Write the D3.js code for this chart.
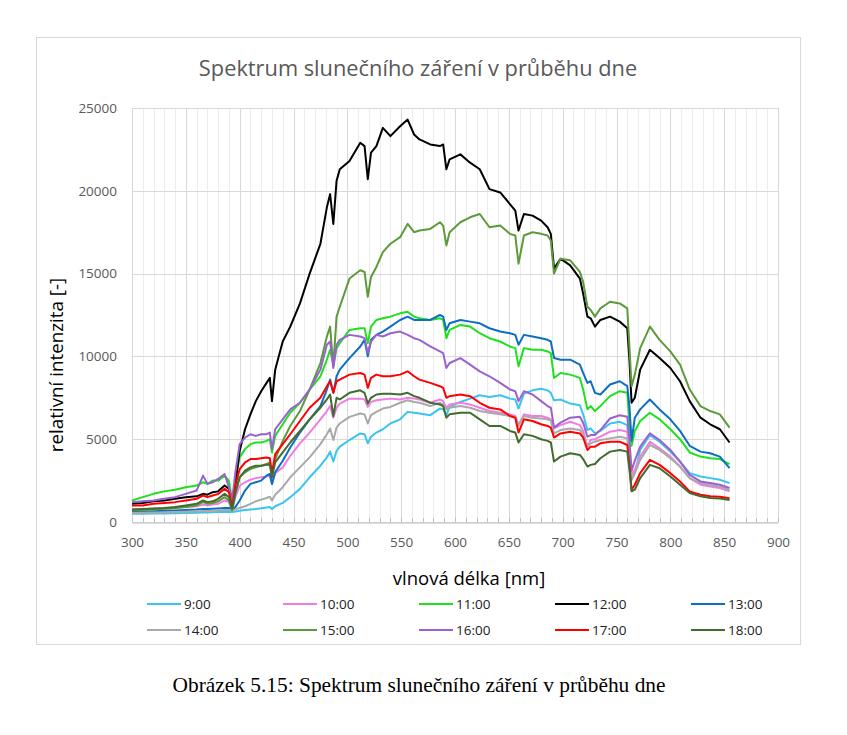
<!DOCTYPE html>
<html><head><meta charset="utf-8">
<script src="https://cdn.jsdelivr.net/npm/d3@7"></script>
<style>body{margin:0;background:#fff}svg{display:block}</style>
</head><body><svg id="c" width="847" height="735"></svg>
<script>
const wavelengths=[300,310,320,330,340,350,360,366,370,375,380,386,390,393,396,400,405,410,415,420,425,428,430,433,440,447,456,465,475,481,484,487,490,493,502,512,516,519,522,527,533,540,549,556,562,567,577,586,589,592,595,605,614,623,632,642,651,656,659,664,672,680,686,689,692,698,707,716,719,723,726,730,735,744,753,760,762,764,767,772,781,790,800,809,818,828,837,846,855];

const s0900=[500,500,510,520,530,540,560,570,580,590,600,610,620,600,640,680,720,760,790,830,880,900,780,950,1150,1500,2000,2700,3400,3900,4250,3650,4300,4550,4950,5350,5300,4750,5150,5400,5600,5950,6200,6650,6600,6550,6450,6850,6800,6450,6950,7250,7450,7650,7550,7650,7450,7400,6850,7750,7950,8050,7950,7800,7350,7400,7150,7050,6500,5550,5650,5350,5500,5950,6050,5850,4300,2550,2950,4350,5250,4850,4250,3650,2950,2750,2650,2550,2350];
const s1000=[750,770,800,820,850,900,950,1050,1000,1050,1100,1300,1200,700,1500,2200,2400,2550,2650,2700,2750,2800,2300,2950,3300,4000,4750,5400,6200,6700,7000,6300,6900,7150,7450,7450,7400,6950,7250,7350,7400,7450,7400,7500,7450,7400,7200,7400,7300,6900,7100,7200,7100,6900,6700,6600,6500,6400,5800,6500,6400,6400,6300,6200,5650,5850,6050,5850,5500,4550,4950,5000,5150,5450,5550,5450,4200,2850,3150,3950,4850,4450,3950,3350,2650,2250,2150,2050,1850];
const s1100=[1300,1500,1700,1850,1950,2100,2200,2400,2300,2500,2500,2800,2500,1300,2500,3900,4400,4700,4800,4800,4900,5000,4200,5200,5900,6600,7200,8000,8800,9800,10400,9500,10500,10800,11600,11700,11700,10800,11800,12200,12300,12400,12600,12700,12400,12300,12200,12300,12200,11100,11600,11900,11800,11400,11100,10900,10600,10500,9400,10500,10400,10400,10300,10200,8700,9000,8900,8700,8000,6800,7000,6700,7000,7600,7900,7800,6000,4600,5500,6100,6600,6200,5600,5000,4200,3950,3850,3800,3500];
const s1200=[1100,1150,1250,1300,1400,1500,1550,1700,1650,1800,1850,2200,2000,1300,2300,4300,5600,6500,7300,7900,8400,8700,7300,9200,10900,11800,13200,15000,16800,19000,19800,18000,20600,21300,21800,22900,22700,20700,22300,22700,23800,23300,23900,24300,23400,23100,22800,22700,22800,21300,21900,22200,21700,21300,20100,19900,19200,18800,17600,18600,18500,18200,17800,17400,15300,15900,15500,14700,13800,12400,12300,11800,12200,12400,12100,11700,9800,7200,7500,9200,10400,9900,9300,8500,7300,6300,5900,5600,4800];
const s1300=[600,620,650,680,700,720,750,780,780,800,820,850,850,750,900,1300,1900,2300,2400,2500,2800,2900,2300,3000,3700,4500,5400,6200,7000,8000,8600,7800,8800,9200,9900,10600,11000,10000,11000,11300,11500,11800,12200,12400,12200,12200,12200,12500,12400,11600,12000,12200,12100,12000,11700,11500,11400,11300,10700,11300,11200,11100,11000,10900,9900,9800,9800,9500,9000,8400,8500,7800,7700,8300,8500,8200,7000,4900,6300,6800,7400,6800,6200,5500,4600,4250,4150,3950,3250];
const s1400=[550,560,570,580,600,620,640,660,660,680,700,720,730,700,760,850,950,1100,1250,1350,1450,1530,1300,1650,2100,2700,3300,3900,4700,5300,5650,4950,5700,5950,6350,6550,6500,5950,6450,6650,6850,6950,7200,7350,7250,7200,7000,7200,7100,6800,6900,7000,6900,6700,6600,6500,6400,6350,5900,6400,6300,6250,6200,6100,5350,5550,5650,5550,5300,4550,4750,4850,4950,5050,5150,5050,3900,2550,2950,3750,4650,4350,3850,3350,2650,2350,2230,2130,1930];
const s1500=[700,720,760,800,850,900,1000,1200,1100,1150,1250,1500,1300,700,1700,2700,3000,3200,3300,3400,3500,3600,2900,3800,4900,5800,6700,8000,9600,11200,11800,9400,12400,13000,14700,15200,15100,13600,14800,15400,16300,16800,17200,18000,17500,17600,17700,18100,17900,16700,17500,18100,18400,18600,17800,17900,17400,17300,15600,17300,17500,17400,17300,17000,15000,15900,15800,15100,14500,13000,12800,12400,12900,13300,13200,12900,10600,8200,8900,10500,11800,11000,10300,9500,8000,7000,6700,6500,5700];
const s1600=[1200,1250,1300,1400,1500,1700,1900,2800,2300,2400,2600,2900,2100,1300,3000,4700,5100,5300,5200,5300,5300,5400,4400,5600,6200,6800,7200,8000,9200,10700,10900,9300,10700,11000,11300,11200,11100,10200,10900,11300,11200,11400,11500,11300,11100,11000,10600,10300,10200,9300,9600,9900,9500,9100,8800,8400,8000,7900,7300,7900,7700,7300,7000,6900,5700,6000,6300,6350,6000,5150,5250,5250,5550,6250,6450,6350,5000,3100,3700,4550,5350,4950,4350,3650,2850,2450,2350,2250,2050];
const s1700=[1000,1000,1100,1150,1200,1300,1400,1600,1500,1600,1700,2000,1800,900,2200,3200,3600,3800,3800,3850,3900,3850,2950,4100,4700,5300,6100,6900,7500,8200,8500,7800,8500,8600,8900,9000,8900,8100,8700,8900,8800,8800,8900,9100,8800,8600,8400,8200,8100,7500,7600,7700,7600,7200,6900,6800,6400,6300,5400,6200,6100,5900,5800,5700,5100,5350,5450,5350,5100,4350,4550,4550,4750,4850,4850,4650,3400,1950,2250,2950,3750,3450,2950,2450,1850,1650,1550,1520,1430];
const s1800=[750,780,820,850,900,1000,1100,1300,1200,1250,1400,1700,1500,800,1800,2700,3100,3300,3400,3400,3450,3450,2700,3600,4200,4800,5500,6200,6900,7400,7700,6400,7500,7400,7800,7950,7800,7150,7500,7700,7750,7750,7700,7800,7600,7500,7200,7100,7000,6300,6500,6600,6600,6200,5800,5800,5500,5400,4800,5300,5200,5000,4900,4800,3650,3950,4150,4050,3800,3350,3450,3500,3850,4250,4350,4250,3200,1850,1950,2650,3450,3250,2750,2250,1750,1550,1450,1420,1330];

const seriesNames=["9:00","10:00","11:00","12:00","13:00","14:00","15:00","16:00","17:00","18:00"];
const seriesValues=[s0900,s1000,s1100,s1200,s1300,s1400,s1500,s1600,s1700,s1800];
const seriesColors=["#3bc4ef","#f07de4","#1fe01f","#000000","#0c6fc4","#a9a9a9","#5c9a3a","#9a62cf","#ff0000","#436b2f"];
const xTicks=[300,350,400,450,500,550,600,650,700,750,800,850,900];
const yTicks=[0,5000,10000,15000,20000,25000];

const svg=d3.select("#c");
const F="'Open Sans', sans-serif";
svg.append("rect").attr("x",36.5).attr("y",37.5).attr("width",764).attr("height",607)
  .attr("fill","#fff").attr("stroke","#d9d9d9").attr("stroke-width",1);

const x=d3.scaleLinear().domain([300,900]).range([132,778]);
const y=d3.scaleLinear().domain([0,25000]).range([522,108]);

const minor=d3.range(310,900,10).filter(v=>v%50!==0);
svg.append("g").selectAll("line").data(minor).join("line")
  .attr("x1",d=>Math.round(x(d))+0.5).attr("x2",d=>Math.round(x(d))+0.5)
  .attr("y1",y(25000)).attr("y2",y(0)).attr("stroke","#ececec").attr("stroke-width",1);
svg.append("g").selectAll("line").data(xTicks).join("line")
  .attr("x1",d=>Math.round(x(d))+0.5).attr("x2",d=>Math.round(x(d))+0.5)
  .attr("y1",y(25000)).attr("y2",y(0)).attr("stroke","#d9d9d9").attr("stroke-width",1);
svg.append("g").selectAll("line").data(yTicks).join("line")
  .attr("x1",x(300)).attr("x2",x(900))
  .attr("y1",d=>Math.round(y(d))+0.5).attr("y2",d=>Math.round(y(d))+0.5)
  .attr("stroke","#d9d9d9").attr("stroke-width",1);
const xAxis=d3.axisBottom(x).tickValues(xTicks).tickSize(0).tickPadding(15).tickFormat(d3.format("d"));
const gx=svg.append("g").attr("transform",`translate(0,${Math.round(y(0))+0.5})`).call(xAxis);
gx.select(".domain").attr("stroke","#bfbfbf");
gx.selectAll("text").attr("font-family",F).attr("font-size",13.5).attr("fill","#595959");
svg.append("g").selectAll("line").data(d3.range(300,901,10)).join("line")
  .attr("x1",d=>Math.round(x(d))+0.5).attr("x2",d=>Math.round(x(d))+0.5)
  .attr("y1",y(0)-4).attr("y2",y(0)).attr("stroke","#bfbfbf");
const yAxis=d3.axisLeft(y).tickValues(yTicks).tickSize(0).tickPadding(15).tickFormat(d3.format("d"));
const gy=svg.append("g").attr("transform",`translate(${x(300)},0)`).call(yAxis);
gy.select(".domain").remove();
gy.selectAll("text").attr("font-family",F).attr("font-size",13.5).attr("fill","#595959");

const line=d3.line().x((d,i)=>x(wavelengths[i])).y(d=>y(d));
seriesValues.forEach((vals,k)=>{
  svg.append("path").datum(vals).attr("d",line).attr("fill","none")
    .attr("stroke",seriesColors[k]).attr("stroke-width",2).attr("stroke-linejoin","round");
});

svg.append("text").attr("x",418).attr("y",76).attr("text-anchor","middle")
  .attr("font-family",F).attr("font-size",21.8).attr("fill","#595959")
  .text("Spektrum slunečního záření v průběhu dne");
svg.append("text").attr("transform","translate(63,365) rotate(-90)").attr("text-anchor","middle")
  .attr("font-family",F).attr("font-size",18.8).attr("fill","#000")
  .text("relativní intenzita [-]");
svg.append("text").attr("x",469).attr("y",585).attr("text-anchor","middle")
  .attr("font-family",F).attr("font-size",18.5).attr("fill","#000")
  .text("vlnová délka [nm]");
seriesNames.forEach((n,k)=>{
  const col=k%5, row=Math.floor(k/5);
  const lx=147+col*136, ly=604+row*26;
  svg.append("line").attr("x1",lx).attr("x2",lx+34).attr("y1",ly).attr("y2",ly)
    .attr("stroke",seriesColors[k]).attr("stroke-width",2);
  svg.append("text").attr("x",lx+37).attr("y",ly+5).attr("font-family",F)
    .attr("font-size",13.5).attr("fill","#222").text(n);
});
svg.append("text").attr("x",419).attr("y",692).attr("text-anchor","middle")
  .attr("font-family","'Liberation Serif', serif").attr("font-size",21.4).attr("fill","#000")
  .text("Obrázek 5.15: Spektrum slunečního záření v průběhu dne");
</script></body></html>
